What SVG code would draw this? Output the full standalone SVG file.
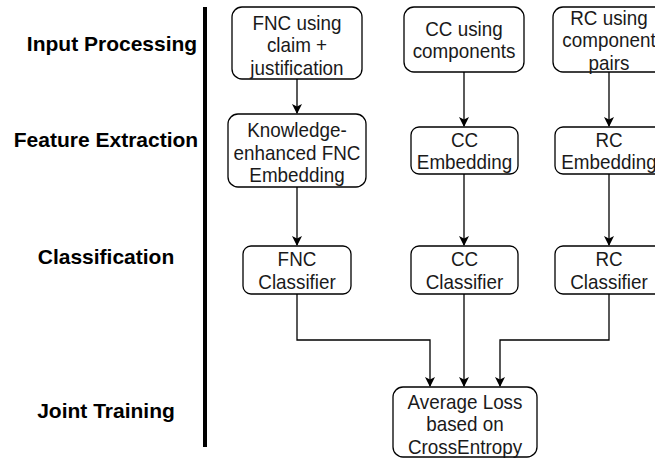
<svg xmlns="http://www.w3.org/2000/svg" width="655" height="460" viewBox="0 0 655 460">
<style>
.box{fill:#fff;stroke:#000;stroke-width:1.3}
.t{font-family:"Liberation Sans",Arial,sans-serif;font-size:20.5px;fill:#1a1a1a;text-anchor:middle;transform-box:fill-box;transform-origin:center;transform:scaleX(0.92)}
.lbl{font-family:"Liberation Sans",Arial,sans-serif;font-size:21px;font-weight:bold;fill:#000;text-anchor:middle}
.c{fill:none;stroke:#000;stroke-width:1.3}
</style>
<defs>
<marker id="ah" markerWidth="10" markerHeight="10" viewBox="0 0 10 10" refX="9" refY="5" orient="auto" markerUnits="userSpaceOnUse">
<path d="M0,0 L10,5 L0,10 L2.5,5 Z" fill="#000"/>
</marker>
</defs>
<rect x="203" y="7" width="4" height="440" fill="#000"/>
<g id="labels">
<text class="lbl" x="112" y="51">Input Processing</text>
<text class="lbl" x="106" y="147">Feature Extraction</text>
<text class="lbl" x="106" y="264">Classification</text>
<text class="lbl" x="106" y="418">Joint Training</text>
</g>
<g id="connectors">
<path class="c" d="M297,79 V113" marker-end="url(#ah)"/>
<path class="c" d="M464,72 V126" marker-end="url(#ah)"/>
<path class="c" d="M609,72 V126" marker-end="url(#ah)"/>
<path class="c" d="M297,187 V245" marker-end="url(#ah)"/>
<path class="c" d="M464,174 V245" marker-end="url(#ah)"/>
<path class="c" d="M609,174 V245" marker-end="url(#ah)"/>
<path class="c" d="M297,294 V340 H430 V386" marker-end="url(#ah)"/>
<path class="c" d="M464,294 V386" marker-end="url(#ah)"/>
<path class="c" d="M609,294 V340 H500 V386" marker-end="url(#ah)"/>
</g>
<g id="fnc-input">
<rect class="box" x="232" y="7" width="130" height="72" rx="10"/>
<text class="t" x="297" y="30">FNC using</text>
<text class="t" x="297" y="52.5">claim +</text>
<text class="t" x="297" y="75">justification</text>
</g>
<g id="cc-input">
<rect class="box" x="404" y="7" width="120" height="65" rx="10"/>
<text class="t" x="464" y="36">CC using</text>
<text class="t" x="464" y="58.5">components</text>
</g>
<g id="rc-input">
<rect class="box" x="553" y="7" width="112" height="65" rx="10"/>
<text class="t" x="609" y="25">RC using</text>
<text class="t" x="609" y="47.5">component</text>
<text class="t" x="609" y="70">pairs</text>
</g>
<g id="fnc-embedding">
<rect class="box" x="228" y="114" width="138" height="73" rx="10"/>
<text class="t" x="297" y="137.5">Knowledge-</text>
<text class="t" x="297" y="160">enhanced FNC</text>
<text class="t" x="297" y="182.5">Embedding</text>
</g>
<g id="cc-embedding">
<rect class="box" x="411" y="127" width="107" height="47" rx="8"/>
<text class="t" x="464.5" y="147">CC</text>
<text class="t" x="464.5" y="169.5">Embedding</text>
</g>
<g id="rc-embedding">
<rect class="box" x="555" y="127" width="108" height="47" rx="8"/>
<text class="t" x="609" y="147">RC</text>
<text class="t" x="609" y="169.5">Embedding</text>
</g>
<g id="fnc-classifier">
<rect class="box" x="243" y="246" width="108" height="48" rx="8"/>
<text class="t" x="297" y="266.5">FNC</text>
<text class="t" x="297" y="289">Classifier</text>
</g>
<g id="cc-classifier">
<rect class="box" x="411" y="246" width="107" height="48" rx="8"/>
<text class="t" x="464.5" y="266.5">CC</text>
<text class="t" x="464.5" y="289">Classifier</text>
</g>
<g id="rc-classifier">
<rect class="box" x="555" y="246" width="108" height="48" rx="8"/>
<text class="t" x="609" y="266.5">RC</text>
<text class="t" x="609" y="289">Classifier</text>
</g>
<g id="average-loss">
<rect class="box" x="393" y="387" width="144" height="70" rx="10"/>
<text class="t" x="465" y="409">Average Loss</text>
<text class="t" x="465" y="431.5">based on</text>
<text class="t" x="465" y="454">CrossEntropy</text>
</g>
</svg>
